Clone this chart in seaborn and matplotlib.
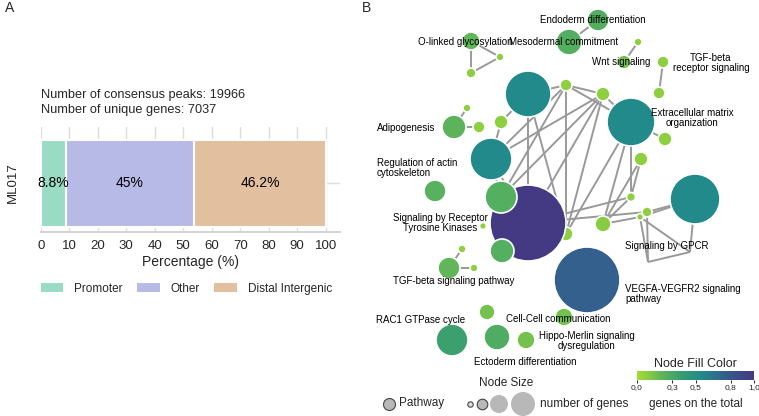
import numpy as np
import pandas as pd
import matplotlib.pyplot as plt
import matplotlib.colors as mcolors
from matplotlib.patches import Patch
from matplotlib.cm import ScalarMappable
import seaborn as sns

# ---------------- data ----------------
# panel A: peak annotation of the consensus peaks
sample = "ML017"
categories = ["Promoter", "Other", "Distal Intergenic"]
percentages = [8.8, 45.0, 46.2]
n_peaks = 19966
n_genes = 7037

# panel B: pathway network (layout coordinates, gene counts, fraction of genes)
node_x = [528, 566, 603, 631, 641, 631, 603, 566, 528, 491, 501, 501, 695, 647, 640,
          648, 587, 598, 569, 471, 500, 471, 638, 624, 663, 659, 665, 454, 467, 479,
          435, 502, 483, 449, 462, 474, 487, 564, 452, 497, 526, 690]
node_y = [94, 85, 94, 122, 159, 197, 224, 234, 223, 159, 197, 122, 199, 212, 217,
          262, 280, 20, 42, 41, 57, 73, 42, 62, 62, 93, 139, 127, 108, 127,
          191, 251, 226, 268, 249, 268, 312, 317, 340, 337, 340, 252]
node_genes = [529, 36, 49, 576, 49, 20, 64, 49, 1444, 441, 256, 49, 625, 25, 12,
              0, 1089, 121, 169, 81, 16, 25, 16, 49, 36, 36, 49, 144, 16, 36,
              121, 144, 12, 121, 16, 16, 64, 81, 256, 169, 81, 0]
node_frac = [0.55, 0.08, 0.08, 0.55, 0.08, 0.08, 0.1, 0.08, 1.0, 0.55, 0.25, 0.08, 0.55, 0.08, 0.08,
             0.08, 0.75, 0.26, 0.26, 0.2, 0.08, 0.08, 0.08, 0.15, 0.08, 0.08, 0.08, 0.22, 0.08, 0.08,
             0.24, 0.25, 0.08, 0.2, 0.08, 0.08, 0.15, 0.15, 0.36, 0.27, 0.15, 0.08]
edges = [(17, 18), (19, 20), (19, 21), (20, 21), (22, 23), (24, 25), (3, 26),
         (27, 28), (27, 29), (33, 34), (33, 35),
         (0, 1), (1, 2), (1, 3), (2, 3), (0, 8), (0, 7), (1, 7), (1, 9), (1, 10),
         (2, 9), (2, 10), (2, 8), (11, 9), (11, 0), (9, 10), (9, 8), (10, 8),
         (3, 6), (3, 7), (3, 5), (4, 6), (4, 5), (5, 8), (5, 6), (8, 7), (2, 7),
         (13, 12), (14, 12), (14, 15), (13, 15), (12, 41), (41, 15), (14, 41),
         (13, 8), (14, 6)]

node_labels = ["Endoderm differentiation", "O-linked glycosylation", "Mesodermal commitment",
               "Wnt signaling", "TGF-beta\nreceptor signaling", "Extracellular matrix\norganization",
               "Adipogenesis", "Regulation of actin\ncytoskeleton", "Signaling by Receptor\nTyrosine Kinases",
               "Signaling by GPCR", "TGF-beta signaling pathway", "VEGFA-VEGFR2 signaling\npathway",
               "RAC1 GTPase cycle", "Cell-Cell communication", "Hippo-Merlin signaling\ndysregulation",
               "Ectoderm differentiation"]
label_x = [593, 465, 564, 621, 711, 692, 406, 377, 440, 667, 454, 625, 421, 558, 587, 525]
label_y = [20, 42, 42, 62, 63, 118, 128, 168, 223, 246, 281, 294, 320, 319, 341, 362]
label_ha = ["center", "center", "center", "center", "center", "center", "center", "left",
            "center", "center", "center", "left", "center", "center", "center", "center"]

cbar_ticks = [0.0, 0.3, 0.5, 0.8, 1.0]
cbar_ticklabels = ["0,0", "0,3", "0,5", "0,8", "1,0"]

# ---------------- style ----------------
sns.set_theme(style="whitegrid")
plt.rcParams['font.family'] = ['Liberation Sans', 'DejaVu Sans']

fig = plt.figure(figsize=(7.59, 4.16), dpi=100)
W, H = 759, 416

# ---------------- panel A ----------------
colors_a = ["#99dbc3", "#b7b9e6", "#e2bf9e"]
ax = fig.add_axes([40.7 / W, 1 - 232 / H, (340 - 40.7) / W, 105 / H])
cum = np.cumsum(percentages)
# stacked bar: draw cumulative totals from the largest down
for i in reversed(range(len(categories))):
    sns.barplot(x=[cum[i]], y=[sample], color=colors_a[i], orient="h", width=0.8,
                edgecolor="white", linewidth=1.5, saturation=1, ax=ax)
for i, v in enumerate(percentages):
    ax.text(cum[i] - v / 2, 0, f"{v:g}%", ha="center", va="center", fontsize=10, color="black")

ax.set_xlim(0, 105)
ax.set_ylim(0.45, -0.515)
ax.set_xticks(range(0, 101, 10))
ax.tick_params(axis="x", labelsize=9.5, pad=6, length=0)
ax.tick_params(axis="y", labelsize=9.5, length=0, pad=16)
for t in ax.get_yticklabels():
    t.set_rotation(90)
    t.set_va("center")
ax.set_xlabel("Percentage (%)", fontsize=10, labelpad=2)
ax.set_ylabel("")
ax.grid(True, color="#dedede", linewidth=1)
ax.set_axisbelow(True)
for s in ["top", "right", "left"]:
    ax.spines[s].set_visible(False)
ax.spines["bottom"].set_color("#d4d4d4")
ax.spines["bottom"].set_linewidth(1.5)
ax.set_title(f"Number of consensus peaks: {n_peaks}\nNumber of unique genes: {n_genes}",
             loc="left", fontsize=9.2, pad=10, linespacing=1.3)
handles = [Patch(facecolor=c, edgecolor="none") for c in colors_a]
ax.legend(handles, categories, loc="center left", bbox_to_anchor=(-0.035, -0.54), ncol=3,
          frameon=False, fontsize=8.5, handlelength=1.9, handleheight=0.7,
          columnspacing=1.2, handletextpad=0.95)

fig.text(5 / W, 1 - 8 / H, "A", fontsize=10, va="center", ha="left")
fig.text(362 / W, 1 - 8 / H, "B", fontsize=10, va="center", ha="left")

# ---------------- panel B ----------------
cmap = mcolors.LinearSegmentedColormap.from_list(
    "nodefill", [(0.0, "#a5db36"), (0.1, "#86cc42"), (0.2, "#62b65a"), (0.3, "#48a865"),
                 (0.4, "#339a74"), (0.55, "#228a8a"), (0.75, "#33608c"), (1.0, "#443983")])
nodes = pd.DataFrame({"x": node_x, "y": node_y, "genes": node_genes, "frac": node_frac})

axb = fig.add_axes([360 / W, 0, 399 / W, 1])
axb.set_xlim(360, 759)
axb.set_ylim(416, 0)
axb.axis("off")

for a, b in edges:
    axb.plot([node_x[a], node_x[b]], [node_y[a], node_y[b]], color="#999999", lw=1.4,
             zorder=1, solid_capstyle="butt")

px2pt = 72 / 100
gmin, gmax = min(g for g in node_genes if g > 0), max(node_genes)
shown = nodes[nodes["genes"] > 0]
sns.scatterplot(data=shown, x="x", y="y", size="genes", sizes=((2 * px2pt) ** 2 * gmin, (2 * px2pt) ** 2 * gmax),
                size_norm=(gmin, gmax), hue="frac", palette=cmap, hue_norm=(0, 1),
                edgecolor="white", linewidth=1.2, legend=False, zorder=3, ax=axb)

for txt, x, y, ha in zip(node_labels, label_x, label_y, label_ha):
    axb.text(x, y, txt, ha=ha, va="center", fontsize=7, color="black", zorder=4, linespacing=1.1)

# node size legend
axb.text(506, 383, "Node Size", ha="center", va="center", fontsize=8.5)
axb.scatter([389], [404], s=(12 * px2pt) ** 2, color="#b8b8b8", edgecolor="#444444", lw=0.8, zorder=3)
axb.text(399, 403, "Pathway", ha="left", va="center", fontsize=8.5)
legend_r = [2.7, 5.3, 9, 12]
legend_x = [470, 482, 499, 523]
legend_face = ["#dddddd", "#b8b8b8", "#b8b8b8", "#b8b8b8"]
legend_edge = ["#444444", "#444444", "none", "none"]
for r, x, fc, ec in zip(legend_r, legend_x, legend_face, legend_edge):
    axb.scatter([x], [404], s=(2 * r * px2pt) ** 2, color=fc, edgecolor=ec, lw=0.8, zorder=3)
axb.text(540, 404, "number of genes", ha="left", va="center", fontsize=8.5)

# colour legend
cax = fig.add_axes([637 / W, 1 - 380 / H, 117 / W, 9 / H])
cb = fig.colorbar(ScalarMappable(norm=mcolors.Normalize(0, 1), cmap=cmap), cax=cax, orientation="horizontal")
cb.outline.set_visible(False)
cb.set_ticks(cbar_ticks)
cb.set_ticklabels(cbar_ticklabels)
cax.tick_params(labelsize=6, length=2, width=0.6, pad=1, color="black")
cax.set_title("Node Fill Color", fontsize=9, pad=3)
axb.text(696, 404, "genes on the total", ha="center", va="center", fontsize=8.5)

fig.savefig("out.png", dpi=100)
